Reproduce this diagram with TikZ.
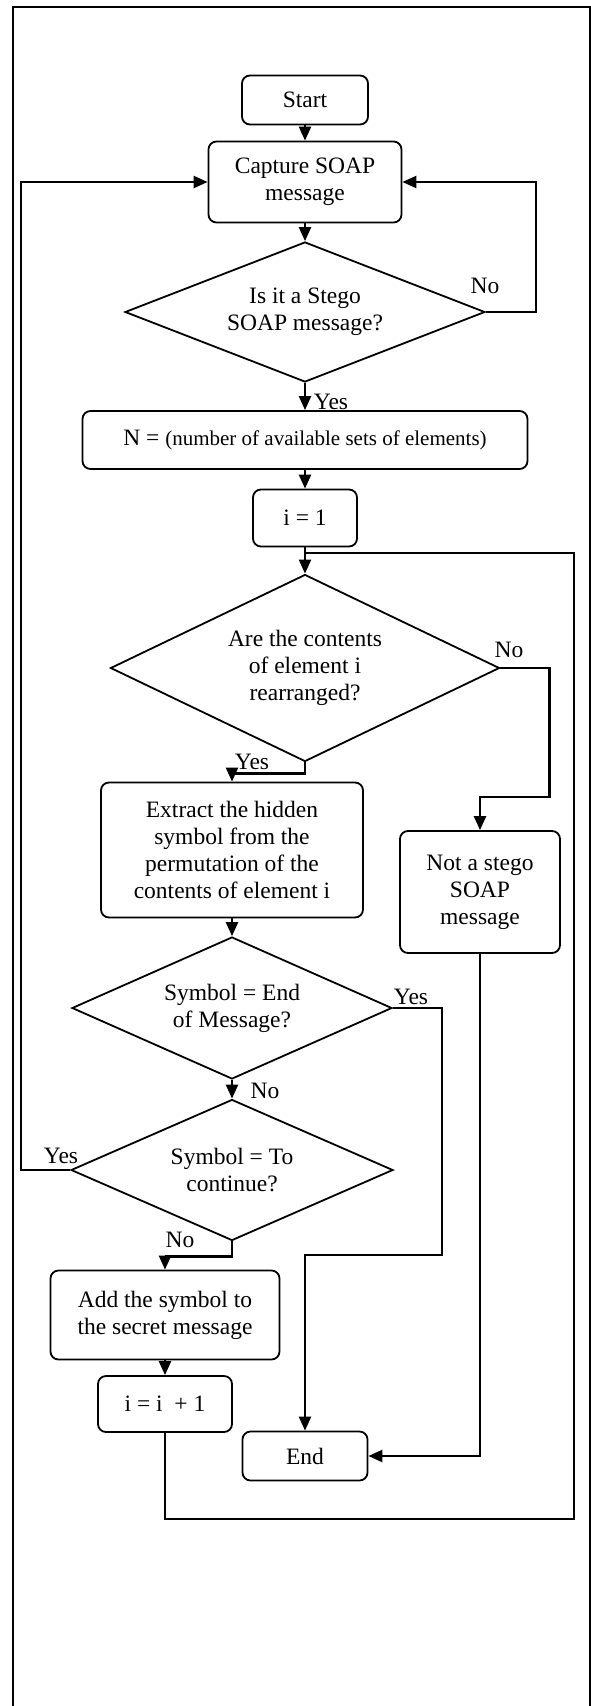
\documentclass[tikz,border=0pt]{standalone}
\usepackage{fontspec}
\setmainfont{Liberation Serif}
\usetikzlibrary{shapes.geometric,arrows.meta}

\tikzset{
	every node/.style={font=\fontsize{23.5}{27}\selectfont},
	box/.style={draw, line width=1.8pt, rounded corners=8pt, align=center, inner sep=0pt},
	decision/.style={draw, diamond, line width=1.8pt, align=center, inner sep=0pt},
	arr/.style={line width=2.4pt, -{Triangle[length=14pt,width=12pt]}},
	line/.style={line width=2.4pt},
	lbl/.style={inner sep=0pt}
}

\begin{document}
\begin{tikzpicture}[x=1pt,y=-1pt]
		\useasboundingbox (0,0) rectangle (591,1706);
		\draw [line width=2pt] (13,1712) -- (13,7) -- (590,7) -- (590,1712);
		% boxes
		\node [box, minimum width=126pt, minimum height=49pt] (start) at (305,100) {Start};
		\node [box, minimum width=193pt, minimum height=81pt] (capture) at (305,182) {Capture SOAP\\message};
		\node [decision, aspect=2.57, minimum width=360pt, minimum height=140pt] (stego) at (305,312) {Is it a Stego\\SOAP message?};
		\node [box, minimum width=445pt, minimum height=58pt] (count) at (305,440) {N = {\fontsize{21}{24}\selectfont (number of available sets of elements)}};
		\node [box, minimum width=104pt, minimum height=57pt] (ione) at (305,518) {i = 1};
		\node [decision, aspect=2.08, minimum width=389pt, minimum height=187pt] (rearr) at (305,668) {Are the contents\\of element i\\rearranged?};
		\node [box, minimum width=262pt, minimum height=135pt] (extract) at (232,850) {Extract the hidden\\symbol from the\\permutation of the\\contents of element i};
		\node [box, minimum width=160pt, minimum height=122pt] (notstego) at (480,892) {Not a stego\\SOAP\\message};
		\node [decision, aspect=2.25, minimum width=320pt, minimum height=142pt] (endmsg) at (232,1008) {Symbol = End\\of Message?};
		\node [decision, aspect=2.28, minimum width=322pt, minimum height=141pt] (cont) at (232,1170) {Symbol = To\\continue?};
		\node [box, minimum width=229pt, minimum height=89pt] (add) at (165,1315) {Add the symbol to\\the secret message};
		\node [box, minimum width=134pt, minimum height=56pt] (inc) at (165,1404) {i = i~ + 1};
		\node [box, minimum width=125pt, minimum height=49pt] (stop) at (305,1456) {End};
		% labels
		\node [lbl] (no1) at (485,286) {No};
		\node [lbl] (yes1) at (331,402) {Yes};
		\node [lbl] (no2) at (509,650) {No};
		\node [lbl] (yes2) at (252,762) {Yes};
		\node [lbl] (yes3) at (411,997) {Yes};
		\node [lbl] (no3) at (265,1091) {No};
		\node [lbl] (yes4) at (61,1156) {Yes};
		\node [lbl] (no4) at (180,1240) {No};
		% connectors
		\draw [arr] (start) -- (capture);
		\draw [arr] (capture) -- (stego);
		\draw [arr] (stego.east) -- ++(50,0) |- (capture.east);
		\draw [arr] (stego) -- (count);
		\draw [arr] (count) -- (ione);
		\draw [arr] (ione) -- (rearr);
		\draw [arr] (rearr.south) -- ++(0,11) -| (extract.north);
		\draw [arr] (rearr.east) -- ++(49,0) -- ++(0,129) -| (notstego.north);
		\draw [arr] (extract) -- (endmsg);
		\draw [arr] (endmsg) -- (cont);
		\draw [arr] (endmsg.east) -- ++(49,0) -- ++(0,247) -| (stop.north);
		\draw [arr] (cont.west) -- ++(-49,0) |- (capture.west);
		\draw [arr] (cont.south) -- ++(0,15) -| (add.north);
		\draw [arr] (add) -- (inc);
		\draw [arr] (notstego.south) |- (stop.east);
		\draw [line] (inc.south) -- ++(0,86) -| (574,553) -- (ione.south |- 0,553);
\end{tikzpicture}
\end{document}
